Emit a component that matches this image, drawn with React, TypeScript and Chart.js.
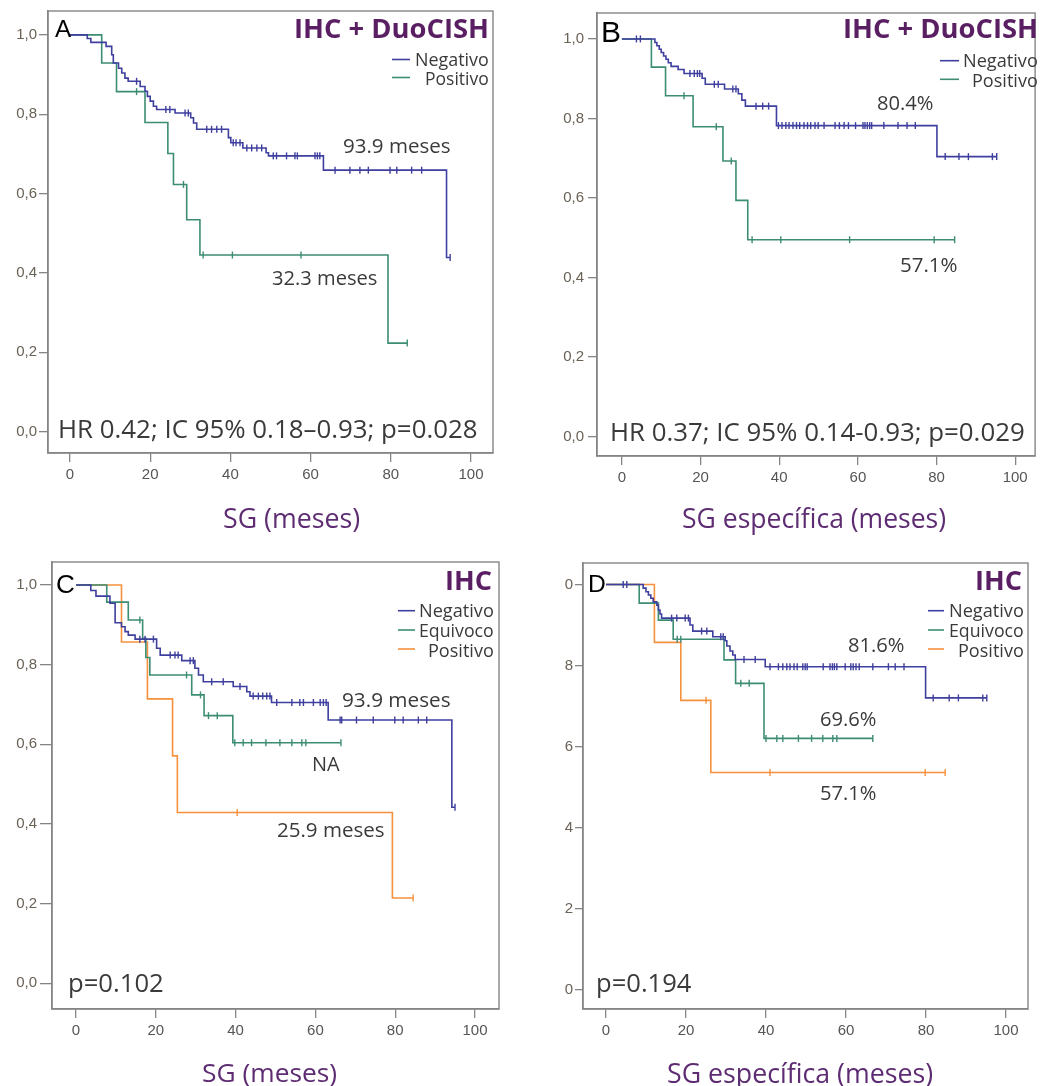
import { useEffect, useRef } from "react";
import { Chart, registerables } from "chart.js";

Chart.register(...registerables);

// ---------------- data ----------------
const X_TICKS = [0, 20, 40, 60, 80, 100];
const Y_TICKS = [0, 0.2, 0.4, 0.6, 0.8, 1.0];
const Y_TICK_LABELS = ["0,0", "0,2", "0,4", "0,6", "0,8", "1,0"];

const GROUPS_AB = ["Negativo", "Positivo"];
const GROUPS_CD = ["Negativo", "Equivoco", "Positivo"];
const TITLE_AB = "IHC + DuoCISH";
const TITLE_CD = "IHC";
const PANEL_LETTERS = ["A", "B", "C", "D"];
const AXIS_TITLE_SG = "SG (meses)";
const AXIS_TITLE_SGE = "SG específica (meses)";

const A_NOTES = ["93.9 meses", "32.3 meses", "HR 0.42; IC 95% 0.18–0.93; p=0.028"];
const B_NOTES = ["80.4%", "57.1%", "HR 0.37; IC 95% 0.14-0.93; p=0.029"];
const C_NOTES = ["93.9 meses", "NA", "25.9 meses", "p=0.102"];
const D_NOTES = ["81.6%", "69.6%", "57.1%", "p=0.194"];

// Panel A – SG, IHC + DuoCISH
const A_NEG_T = [4.3, 5.2, 9.0, 10.4, 10.8, 12.1, 12.9, 13.7, 14.5, 17.5, 18.7, 19.3, 20.0, 20.8, 21.6, 26.2, 30.1, 30.8, 31.6, 39.5, 40.1, 43.1, 48.9, 49.5, 63.2, 93.9];
const A_NEG_S = [0.991, 0.981, 0.971, 0.95, 0.929, 0.916, 0.904, 0.891, 0.883, 0.87, 0.858, 0.845, 0.833, 0.82, 0.812, 0.803, 0.791, 0.778, 0.762, 0.741, 0.728, 0.715, 0.703, 0.695, 0.659, 0.439];
const A_NEG_C = [16.6, 23.9, 24.9, 28.7, 29.5, 34.1, 35.3, 36.6, 37.8, 40.7, 41.4, 42.4, 44.1, 45.3, 46.6, 47.8, 50.7, 51.5, 54.0, 56.1, 56.7, 61.1, 61.7, 62.3, 66.1, 69.8, 72.3, 74.4, 79.8, 81.5, 85.2, 87.7, 94.8];
const A_POS_T = [7.9, 11.6, 18.7, 24.4, 25.8, 29.1, 32.4, 79.3];
const A_POS_S = [0.929, 0.857, 0.779, 0.701, 0.623, 0.534, 0.445, 0.223];
const A_POS_C = [16.6, 28.3, 33.2, 40.5, 57.6, 84.1];

// Panel B – SG específica, IHC + DuoCISH
const B_NEG_T = [8.4, 8.9, 9.5, 10.0, 10.6, 11.2, 11.8, 12.5, 14.3, 15.8, 20.4, 21.2, 26.1, 29.6, 30.5, 31.4, 39.3, 80.1];
const B_NEG_S = [0.991, 0.983, 0.974, 0.966, 0.957, 0.949, 0.94, 0.931, 0.923, 0.913, 0.901, 0.886, 0.874, 0.862, 0.846, 0.831, 0.782, 0.704];
const B_NEG_C = [3.7, 4.7, 17.3, 18.4, 19.2, 19.8, 23.5, 24.5, 28.2, 29.0, 34.1, 35.8, 37.3, 39.8, 40.7, 41.7, 42.5, 43.5, 44.4, 45.2, 46.3, 47.2, 48.0, 49.1, 49.9, 51.4, 54.2, 55.3, 56.5, 57.6, 59.4, 61.3, 61.8, 62.4, 63.0, 63.5, 66.6, 70.2, 72.5, 74.6, 82.2, 85.7, 88.1, 94.2, 95.3];
const B_POS_T = [7.5, 11.1, 18.1, 25.7, 29.0, 32.0];
const B_POS_S = [0.929, 0.857, 0.779, 0.693, 0.594, 0.495];
const B_POS_C = [15.8, 24.0, 27.8, 33.1, 40.4, 57.9, 79.4, 84.6];

// Panel C – SG, IHC
const C_NEG_T = [3.7, 5.0, 8.5, 9.8, 11.4, 12.3, 13.1, 14.8, 20.2, 21.1, 26.5, 29.8, 30.7, 31.9, 39.4, 42.8, 43.6, 49.0, 63.2, 94.2];
const C_NEG_S = [0.986, 0.972, 0.954, 0.905, 0.895, 0.883, 0.874, 0.864, 0.841, 0.824, 0.81, 0.791, 0.774, 0.757, 0.745, 0.732, 0.721, 0.705, 0.661, 0.442];
const C_NEG_C = [16.0, 17.3, 19.4, 23.6, 24.8, 25.6, 28.6, 29.4, 34.0, 36.9, 41.1, 44.4, 45.7, 46.8, 47.8, 48.6, 50.3, 54.1, 56.1, 57.0, 59.5, 61.2, 62.0, 62.7, 66.2, 66.6, 70.3, 74.5, 79.9, 82.0, 85.8, 87.9, 95.0];
const C_EQ_T = [7.7, 13.1, 16.7, 17.5, 18.5, 29.0, 32.1, 39.3];
const C_EQ_S = [0.957, 0.912, 0.866, 0.818, 0.774, 0.724, 0.672, 0.604];
const C_EQ_C = [16.0, 27.7, 31.2, 33.2, 35.4, 39.8, 41.9, 44.0, 47.6, 51.1, 54.1, 56.6, 57.6, 66.4];
const C_POS_T = [11.4, 17.9, 24.2, 25.4, 79.3];
const C_POS_S = [0.857, 0.714, 0.571, 0.429, 0.214];
const C_POS_C = [40.4, 84.5];

// Panel D – SG específica, IHC
const D_NEG_T = [9.3, 10.0, 10.6, 11.2, 11.8, 12.7, 13.1, 13.5, 13.9, 21.0, 21.7, 26.7, 29.8, 30.2, 31.0, 31.7, 32.3, 39.8, 79.9];
const D_NEG_S = [0.991, 0.982, 0.974, 0.966, 0.957, 0.949, 0.937, 0.927, 0.917, 0.9, 0.885, 0.871, 0.861, 0.848, 0.836, 0.826, 0.815, 0.797, 0.72];
const D_NEG_C = [4.3, 5.2, 16.4, 17.7, 19.8, 20.6, 23.9, 25.2, 28.7, 29.3, 34.5, 37.3, 41.0, 43.1, 44.2, 45.2, 46.0, 47.0, 47.8, 49.2, 49.8, 50.3, 54.3, 56.0, 56.6, 57.1, 57.7, 59.8, 61.2, 61.8, 62.5, 63.3, 66.7, 70.6, 72.3, 74.5, 81.8, 85.8, 88.1, 94.2, 95.2];
const D_EQ_T = [8.3, 13.1, 16.8, 29.5, 32.4, 39.5];
const D_EQ_S = [0.954, 0.912, 0.865, 0.814, 0.756, 0.62];
const D_EQ_C = [17.8, 18.7, 33.7, 35.8, 40.0, 42.7, 44.2, 48.1, 51.4, 54.2, 56.7, 57.7, 66.7];
const D_POS_T = [12.1, 18.7, 26.2];
const D_POS_S = [0.857, 0.714, 0.536];
const D_POS_C = [25.0, 41.0, 79.8, 84.8];

// ---------------- styles ----------------
const BLUE = "#3f3f9f";
const GREEN = "#3d8c74";
const ORANGE = "#f5913c";
const PURPLE = "#5a1f63";
const AXIS_PURPLE = "#5e2c72";
const TEXT = "#3a3a3a";
const FRAME = "#858585";
const SANS = '"Open Sans", "DejaVu Sans", sans-serif';
const ARIAL = '"Liberation Sans", Arial, sans-serif';

type Curve = { name: string; t: number[]; s: number[]; c: number[]; color: string };
type TextItem = { text: string; x: number; cy: number; w: number; align?: "left" | "right"; family?: string; weight?: string; color?: string };
type LineItem = { x1: number; x2: number; y: number; color: string };
type Panel = {
  left: number; top: number; w: number; h: number;
  pad: { top: number; right: number; bottom: number };
  yAxisW: number; yTickLen: number; yTickPad: number;
  xMin: number; xMax: number; yMin: number; yMax: number;
  curves: Curve[]; texts: TextItem[]; lines: LineItem[];
};

const PANELS: Panel[] = [
  {
    left: 0, top: 0, w: 520, h: 543, pad: { top: 9, right: 27, bottom: 60 },
    yAxisW: 48, yTickLen: 9, yTickPad: 2,
    xMin: -5.49, xMax: 105.49, yMin: -0.054, yMax: 1.0602,
    curves: [
      { name: GROUPS_AB[0], t: A_NEG_T, s: A_NEG_S, c: A_NEG_C, color: BLUE },
      { name: GROUPS_AB[1], t: A_POS_T, s: A_POS_S, c: A_POS_C, color: GREEN },
    ],
    texts: [
      { text: TITLE_AB, x: 488, cy: 28, w: 192, align: "right", weight: "bold", color: PURPLE },
      { text: GROUPS_AB[0], x: 488, cy: 59.5, w: 72, align: "right" },
      { text: GROUPS_AB[1], x: 488, cy: 78, w: 62, align: "right" },
      { text: A_NOTES[0], x: 344, cy: 146, w: 106 },
      { text: A_NOTES[1], x: 272, cy: 278, w: 105 },
      { text: A_NOTES[2], x: 60, cy: 428.5, w: 418 },
      { text: PANEL_LETTERS[0], x: 55, cy: 28, w: 17, family: ARIAL, color: "#000" },
      { text: AXIS_TITLE_SG, x: 224, cy: 518, w: 136, color: AXIS_PURPLE },
    ],
    lines: [
      { x1: 392, x2: 410, y: 59.5, color: BLUE },
      { x1: 392, x2: 410, y: 77.5, color: GREEN },
    ],
  },
  {
    left: 520, top: 0, w: 520, h: 543, pad: { top: 12, right: 3, bottom: 57 },
    yAxisW: 77, yTickLen: 9, yTickPad: 4,
    xMin: -6.33, xMax: 105.06, yMin: -0.0489, yMax: 1.0652,
    curves: [
      { name: GROUPS_AB[0], t: B_NEG_T, s: B_NEG_S, c: B_NEG_C, color: BLUE },
      { name: GROUPS_AB[1], t: B_POS_T, s: B_POS_S, c: B_POS_C, color: GREEN },
    ],
    texts: [
      { text: TITLE_AB, x: 1037, cy: 28, w: 192, align: "right", weight: "bold", color: PURPLE },
      { text: GROUPS_AB[0], x: 1037, cy: 60.5, w: 73, align: "right" },
      { text: GROUPS_AB[1], x: 1037, cy: 80.5, w: 64, align: "right" },
      { text: B_NOTES[0], x: 878, cy: 103, w: 55 },
      { text: B_NOTES[1], x: 901, cy: 265, w: 56 },
      { text: B_NOTES[2], x: 612, cy: 432, w: 413 },
      { text: PANEL_LETTERS[1], x: 603, cy: 32, w: 18, family: ARIAL, color: "#000" },
      { text: AXIS_TITLE_SGE, x: 683, cy: 518, w: 263, color: AXIS_PURPLE },
    ],
    lines: [
      { x1: 940, x2: 959, y: 60.7, color: BLUE },
      { x1: 940, x2: 959, y: 79.3, color: GREEN },
    ],
  },
  {
    left: 0, top: 543, w: 520, h: 543, pad: { top: 19, right: 21, bottom: 47 },
    yAxisW: 52, yTickLen: 12, yTickPad: 3,
    xMin: -6.02, xMax: 106.02, yMin: -0.0645, yMax: 1.0577,
    curves: [
      { name: GROUPS_CD[0], t: C_NEG_T, s: C_NEG_S, c: C_NEG_C, color: BLUE },
      { name: GROUPS_CD[1], t: C_EQ_T, s: C_EQ_S, c: C_EQ_C, color: GREEN },
      { name: GROUPS_CD[2], t: C_POS_T, s: C_POS_S, c: C_POS_C, color: ORANGE },
    ],
    texts: [
      { text: TITLE_CD, x: 493, cy: 580, w: 46, align: "right", weight: "bold", color: PURPLE },
      { text: GROUPS_CD[0], x: 493, cy: 610.5, w: 73, align: "right" },
      { text: GROUPS_CD[1], x: 493, cy: 630, w: 73, align: "right" },
      { text: GROUPS_CD[2], x: 493, cy: 650, w: 64, align: "right" },
      { text: C_NOTES[0], x: 343, cy: 700, w: 107 },
      { text: C_NOTES[1], x: 313, cy: 764, w: 27 },
      { text: C_NOTES[2], x: 278, cy: 830, w: 107 },
      { text: C_NOTES[3], x: 70, cy: 982.5, w: 94 },
      { text: PANEL_LETTERS[2], x: 57, cy: 584, w: 17, family: ARIAL, color: "#000" },
      { text: AXIS_TITLE_SG, x: 203, cy: 1073, w: 134, color: AXIS_PURPLE },
    ],
    lines: [
      { x1: 398, x2: 415, y: 610.7, color: BLUE },
      { x1: 398, x2: 415, y: 630, color: GREEN },
      { x1: 398, x2: 415, y: 649, color: ORANGE },
    ],
  },
  {
    left: 565, top: 543, w: 475, h: 543, pad: { top: 20, right: 12, bottom: 47 },
    yAxisW: 18, yTickLen: 8, yTickPad: 2,
    xMin: -5.75, xMax: 105.5, yMin: -0.0481, yMax: 1.0531,
    curves: [
      { name: GROUPS_CD[0], t: D_NEG_T, s: D_NEG_S, c: D_NEG_C, color: BLUE },
      { name: GROUPS_CD[1], t: D_EQ_T, s: D_EQ_S, c: D_EQ_C, color: GREEN },
      { name: GROUPS_CD[2], t: D_POS_T, s: D_POS_S, c: D_POS_C, color: ORANGE },
    ],
    texts: [
      { text: TITLE_CD, x: 1023, cy: 580, w: 46, align: "right", weight: "bold", color: PURPLE },
      { text: GROUPS_CD[0], x: 1023, cy: 610.5, w: 73, align: "right" },
      { text: GROUPS_CD[1], x: 1023, cy: 630, w: 73, align: "right" },
      { text: GROUPS_CD[2], x: 1023, cy: 650, w: 64, align: "right" },
      { text: D_NOTES[0], x: 849, cy: 645, w: 55 },
      { text: D_NOTES[1], x: 821, cy: 719, w: 55 },
      { text: D_NOTES[2], x: 821, cy: 793, w: 55 },
      { text: D_NOTES[3], x: 598, cy: 983, w: 95 },
      { text: PANEL_LETTERS[3], x: 590, cy: 583, w: 16, family: ARIAL, color: "#000" },
      { text: AXIS_TITLE_SGE, x: 668, cy: 1073, w: 265, color: AXIS_PURPLE },
    ],
    lines: [
      { x1: 928, x2: 944, y: 610.7, color: BLUE },
      { x1: 928, x2: 944, y: 630, color: GREEN },
      { x1: 928, x2: 944, y: 649, color: ORANGE },
    ],
  },
];

// ---------------- helpers ----------------
function stepPoints(c: Curve) {
  const pts = [{ x: 0, y: 1 }];
  c.t.forEach((ti, i) => pts.push({ x: ti, y: c.s[i] }));
  const lastT = Math.max(c.t[c.t.length - 1], ...c.c);
  pts.push({ x: lastT, y: c.s[c.s.length - 1] });
  return pts;
}

function survAt(c: Curve, time: number) {
  let v = 1;
  for (let i = 0; i < c.t.length; i++) if (c.t[i] <= time) v = c.s[i];
  return v;
}

function drawFitted(ctx: CanvasRenderingContext2D, it: TextItem, ox: number, oy: number) {
  const family = it.family || SANS;
  const weight = it.weight || "normal";
  ctx.save();
  const base = 20;
  ctx.font = `${weight} ${base}px ${family}`;
  const m0 = ctx.measureText(it.text);
  const ink0 = m0.actualBoundingBoxLeft + m0.actualBoundingBoxRight;
  const size = (base * it.w) / ink0;
  ctx.font = `${weight} ${size}px ${family}`;
  const m = ctx.measureText(it.text);
  const capH = ctx.measureText("H").actualBoundingBoxAscent;
  const inkLeft = it.align === "right" ? it.x - it.w : it.x;
  ctx.fillStyle = it.color || TEXT;
  ctx.textAlign = "left";
  ctx.textBaseline = "alphabetic";
  ctx.fillText(it.text, inkLeft + m.actualBoundingBoxLeft - ox, it.cy + capH / 2 - oy);
  ctx.restore();
}

function makeChart(canvas: HTMLCanvasElement, p: Panel) {
  const datasets: any[] = [];
  p.curves.forEach((c) => {
    datasets.push({
      label: c.name,
      data: stepPoints(c),
      borderColor: c.color,
      backgroundColor: c.color,
      borderWidth: 1.6,
      stepped: true,
      pointRadius: 0,
      pointHoverRadius: 0,
      fill: false,
    });
    datasets.push({
      label: c.name + " censurado",
      data: c.c.map((t) => ({ x: t, y: survAt(c, t) })),
      showLine: false,
      pointStyle: "line",
      rotation: 90,
      pointRadius: 3.5,
      pointHoverRadius: 3.5,
      borderWidth: 1.4,
      borderColor: c.color,
      backgroundColor: c.color,
    });
  });

  const overlay = {
    id: "overlay",
    afterDraw(chart: any) {
      const ctx = chart.ctx as CanvasRenderingContext2D;
      const a = chart.chartArea;
      ctx.save();
      ctx.strokeStyle = FRAME;
      ctx.lineWidth = 1.4;
      ctx.strokeRect(a.left, a.top, a.right - a.left, a.bottom - a.top);
      p.lines.forEach((l) => {
        ctx.strokeStyle = l.color;
        ctx.lineWidth = 1.6;
        ctx.beginPath();
        ctx.moveTo(l.x1 - p.left, l.y - p.top);
        ctx.lineTo(l.x2 - p.left, l.y - p.top);
        ctx.stroke();
      });
      ctx.restore();
      p.texts.forEach((it) => drawFitted(ctx, it, p.left, p.top));
    },
  };

  return new Chart(canvas, {
    type: "line",
    data: { datasets },
    options: {
      responsive: false,
      animation: false,
      events: [],
      layout: { padding: { left: 0, top: p.pad.top, right: p.pad.right, bottom: p.pad.bottom } },
      plugins: { legend: { display: false }, tooltip: { enabled: false }, title: { display: false } },
      scales: {
        x: {
          type: "linear",
          min: p.xMin,
          max: p.xMax,
          afterBuildTicks: (sc: any) => {
            sc.ticks = X_TICKS.map((v) => ({ value: v }));
          },
          afterFit: (sc: any) => {
            sc.height = 30;
          },
          ticks: {
            color: "#555",
            font: { family: ARIAL, size: 15 },
            padding: 4,
            maxRotation: 0,
            autoSkip: false,
            callback: (v: any) => String(v),
          },
          grid: { display: true, drawOnChartArea: false, drawTicks: true, tickLength: 9, color: FRAME, lineWidth: 1.3 },
          border: { display: true, color: FRAME, width: 1.4 },
        },
        y: {
          type: "linear",
          min: p.yMin,
          max: p.yMax,
          afterBuildTicks: (sc: any) => {
            sc.ticks = Y_TICKS.map((v) => ({ value: v }));
          },
          afterFit: (sc: any) => {
            sc.width = p.yAxisW;
          },
          ticks: {
            color: "#6a6256",
            font: { family: ARIAL, size: 15 },
            padding: p.yTickPad,
            autoSkip: false,
            callback: (v: any) => {
              const i = Y_TICKS.findIndex((t) => Math.abs(t - Number(v)) < 1e-6);
              return i >= 0 ? Y_TICK_LABELS[i] : "";
            },
          },
          grid: { display: true, drawOnChartArea: false, drawTicks: true, tickLength: p.yTickLen, color: FRAME, lineWidth: 1.3 },
          border: { display: true, color: FRAME, width: 1.4 },
        },
      },
    } as any,
    plugins: [overlay],
  });
}

export default function App() {
  const refs = useRef<(HTMLCanvasElement | null)[]>([]);

  useEffect(() => {
    const charts = PANELS.map((p, i) => makeChart(refs.current[i] as HTMLCanvasElement, p));
    return () => charts.forEach((c) => c.destroy());
  }, []);

  return (
    <div style={{ position: "absolute", left: 0, top: 0, width: 1040, height: 1086, background: "#fff", overflow: "hidden" }}>
      {PANELS.map((p, i) => (
        <canvas
          key={i}
          ref={(el) => {
            refs.current[i] = el;
          }}
          width={p.w}
          height={p.h}
          style={{ position: "absolute", left: p.left, top: p.top, width: p.w, height: p.h }}
        />
      ))}
    </div>
  );
}
